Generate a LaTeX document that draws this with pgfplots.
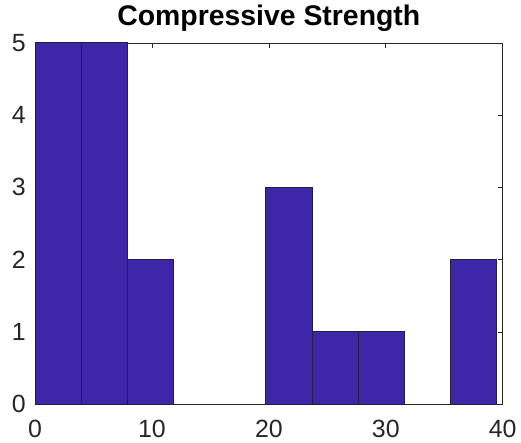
\documentclass[border=0pt]{standalone}
\usepackage{pgfplots}
\pgfplotsset{compat=1.18}
\usepackage{fontspec}
\setmainfont{Liberation Sans}
\definecolor{barc}{RGB}{62,38,168}
\definecolor{edgec}{RGB}{35,30,60}
\definecolor{axc}{RGB}{38,38,38}
\pgfplotstableread{
x y
1.975 5
5.925 5
9.875 2
21.725 3
25.675 1
29.625 1
37.525 2
}\histdata
\begin{document}
\begin{tikzpicture}
\useasboundingbox (-35bp,-39bp) rectangle (486bp,404bp);
\begin{axis}[
  at={(0,0)}, anchor=south west,
  scale only axis, width=467.7bp, height=361bp,
  xmin=0, xmax=40, ymin=0, ymax=5,
  xtick={0,10,20,30,40}, ytick={0,1,2,3,4,5},
  tick align=inside, major tick length=5bp,
  axis line style={axc, line width=0.6bp},
  tick style={axc, line width=0.6bp},
  /pgf/number format/assume math mode=true,
  ticklabel style={font=\fontsize{25}{25}\selectfont, text=axc},
  xticklabel style={anchor=north, inner sep=0pt, yshift=-16bp},
  yticklabel style={anchor=east, inner sep=0pt, xshift=-9bp},
  title={\bfseries Compressive Strength},
  title style={font=\fontsize{28.5}{30}\selectfont, at={(0.5,1)}, anchor=base, yshift=11.6bp, inner sep=0pt},
]
\addplot[ybar, bar width=3.95, bar shift=0pt, fill=barc, draw=edgec, line width=1bp] table[x=x, y=y] {\histdata};
\end{axis}
\end{tikzpicture}
\end{document}
